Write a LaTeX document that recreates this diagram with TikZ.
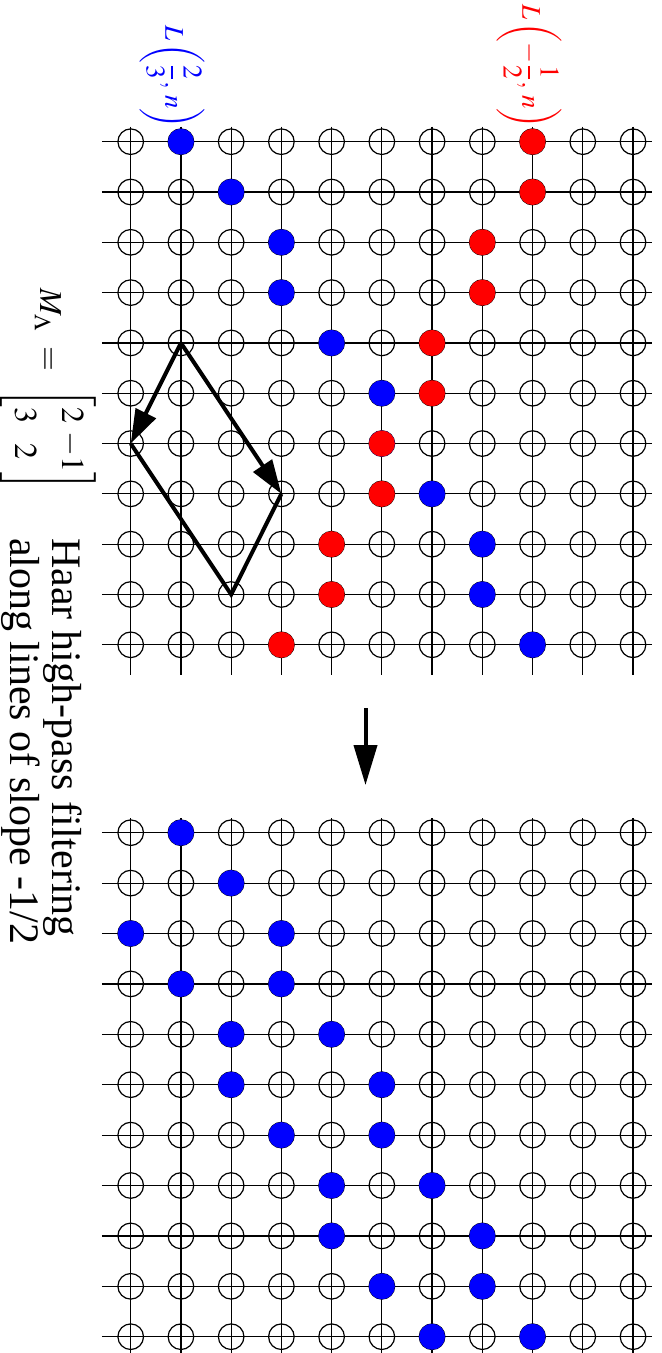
\documentclass[tikz,border=0pt]{standalone}
\usepackage{amsmath}
\usepackage{mathptmx}
\usepackage[no-math]{fontspec}
\setmainfont{Liberation Serif}
\usetikzlibrary{arrows.meta}
\definecolor{ptBlue}{HTML}{0000FF}
\definecolor{ptRed}{HTML}{FF0000}
\tikzset{
  gridline/.style={line width=0.6pt, draw=black},
  site/.style={circle, draw=black, line width=0.6pt, minimum size=12.8pt, inner sep=0pt},
  bdot/.style={circle, fill=ptBlue, minimum size=13pt, inner sep=0pt},
  rdot/.style={circle, fill=ptRed, minimum size=13pt, inner sep=0pt},
  cell/.style={line width=2pt, line join=miter},
  basis/.style={-{Triangle[length=17pt,width=11pt]}, line width=2pt},
  flow/.style={-{Triangle[length=20pt,width=11.5pt]}, line width=2pt},
  lbl/.style={rotate=-90, inner sep=0pt, font=\fontsize{13.5}{16}\selectfont}
}
\begin{document}
\begin{tikzpicture}[x=0.5pt,y=-0.5pt]
  \useasboundingbox (0,0) rectangle (661,1353);
  \foreach \r in {0,...,10}{
    \foreach \c in {0,...,10}{
      \coordinate (t\c-\r) at ({130.7+50.23*\c},{141.7+50.31*\r});
      \coordinate (b\c-\r) at ({130.7+50.23*\c},{832.7+50.4*\r});
    }
  }
  \foreach \i in {0,...,10}{
    \draw[gridline] ([yshift=7.5pt]t\i-0) -- ([yshift=-15pt]t\i-10);
    \draw[gridline] ([xshift=-14.4pt]t0-\i) -- ([xshift=9.4pt]t10-\i);
    \draw[gridline] ([yshift=7.2pt]b\i-0) -- ([yshift=-9pt]b\i-10);
    \draw[gridline] ([xshift=-14.4pt]b0-\i) -- ([xshift=9.4pt]b10-\i);
  }
  \foreach \r in {0,...,10}{
    \foreach \c in {0,...,10}{
      \node[site] (ts\c-\r) at (t\c-\r) {};
      \node[site] (bs\c-\r) at (b\c-\r) {};
    }
  }
  \foreach \c/\r in {1/0,2/1,3/2,3/3,4/4,5/5,5/6,6/7,7/8,7/9,8/10}{\node[bdot] (tb\c-\r) at (t\c-\r) {};}
  \foreach \c/\r in {8/0,8/1,7/2,7/3,6/4,6/5,5/6,5/7,4/8,4/9,3/10}{\node[rdot] (tr\c-\r) at (t\c-\r) {};}
  \foreach \c/\r in {1/0,2/1,0/2,3/2,1/3,3/3,2/4,4/4,2/5,5/5,3/6,5/6,4/7,6/7,4/8,7/8,5/9,7/9,6/10,8/10}{\node[bdot] (bb\c-\r) at (b\c-\r) {};}
  \draw[cell] (t0-6) -- (t2-9) -- (t3-7);
  \draw[basis] (t1-4) -- (t0-6);
  \draw[basis] (t1-4) -- (t3-7);
  \coordinate (down0) at (365.5,708);
  \coordinate (down1) at (365.5,785);
  \draw[flow] (down0) -- (down1);
  \node[lbl, anchor=east, text=ptBlue] (lblue) at (172,129) {$L\left(\dfrac{2}{3},\, n\right)$};
  \node[lbl, anchor=east, text=ptRed] (lred) at (529,129) {$L\left(-\dfrac{1}{2},\, n\right)$};
  \node[lbl, anchor=base, font=\fontsize{16}{23.5}\selectfont] (mlam) at (40,390) {\setlength{\arraycolsep}{2pt}$M_\Lambda \;=\;\, \begin{bmatrix}2&-1\\3&2\end{bmatrix}$};
  \node[lbl, align=left, font=\fontsize{21}{21}\selectfont] (haar) at (42,741) {Haar high-pass filtering\\along lines of slope -1/2};
\end{tikzpicture}
\end{document}
